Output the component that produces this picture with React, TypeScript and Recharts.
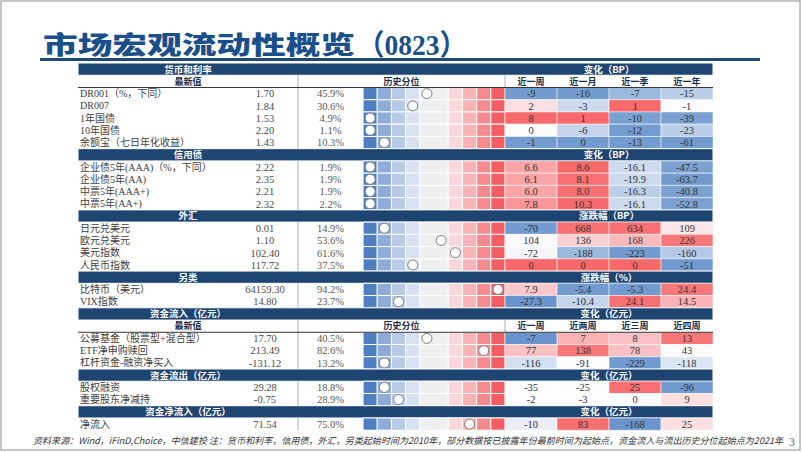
import React from "react";
import { ComposedChart, XAxis, YAxis, ReferenceArea, ReferenceLine, Scatter } from "recharts";

// section structure
const sectionTitles = ["货币和利率", "信用债", "外汇", "另类", "资金流入（亿元）", "资金流出（亿元）", "资金净流入（亿元）"];
const sectionChangeTitles = ["变化（BP）", "变化（BP）", "涨跌幅（BP）", "涨跌幅（%）", "变化（亿元）", "变化（亿元）", "变化（亿元）"];
const sectionRowCounts = [5, 4, 4, 2, 3, 2, 1];
const sectionDecimals = [0, 1, 0, 1, 0, 0, 0];
const ratePeriods = ["近一周", "近一月", "近一季", "近一年"];
const flowPeriods = ["近一周", "近两周", "近三周", "近四周"];
const subheadSections = [0, 4];

const rowLabels = [
  "DR001（%，下同）", "DR007", "1年国债", "10年国债", "余额宝（七日年化收益）",
  "企业债5年(AAA)（%，下同）", "企业债5年(AA)", "中票5年(AAA+)", "中票5年(AA+)",
  "日元兑美元", "欧元兑美元", "美元指数", "人民币指数",
  "比特币（美元）", "VIX指数",
  "公募基金（股票型+混合型）", "ETF净申购赎回", "杠杆资金-融资净买入",
  "股权融资", "重要股东净减持",
  "净流入",
];
const latestValues = [1.7, 1.84, 1.53, 2.2, 1.43, 2.22, 2.35, 2.21, 2.32, 0.01, 1.1, 102.4, 117.72, 64159.3, 14.8, 17.7, 213.49, -131.12, 29.28, -0.75, 71.54];
const percentiles = [45.9, 30.6, 4.9, 1.1, 10.3, 1.9, 1.9, 1.9, 2.2, 14.9, 53.6, 61.6, 37.5, 94.2, 23.7, 40.5, 82.6, 13.2, 18.8, 28.9, 75.0];

const chgP1 = [-9, 2, 8, 0, -1, 6.6, 6.1, 6.0, 7.8, -70, 104, -72, 0, 7.9, -27.3, -7, 77, -116, -35, -2, -10];
const chgP2 = [-16, -3, 1, -6, 0, 8.6, 8.1, 8.0, 10.3, 668, 136, -188, 0, -5.4, -10.4, 7, 138, -91, -25, -3, 83];
const chgP3 = [-7, 1, -10, -12, -13, -16.1, -19.9, -16.3, -16.1, 634, 168, -223, 0, -5.3, 24.1, 8, 78, -229, 25, 0, -168];
const chgP4 = [-15, -1, -39, -23, -61, -47.5, -63.7, -40.8, -52.8, 109, 226, -160, -51, 24.4, 14.5, 13, 43, -118, -96, 9, 25];

// heat level (-1 blue .. 0 white .. 1 red)
const heatP1 = [-0.85, 0.2, 1, 0, -0.85, 0.6, 0.6, 0.6, 0.7, -0.85, 0.02, -0.05, 1, 0.35, -0.9, -0.9, 0.4, -0.25, 0, 0, -0.12];
const heatP2 = [-0.85, -0.3, 1, -0.35, -0.85, 1, 0.95, 0.95, 1, 0.95, 0.3, -0.6, 1, -0.85, -0.35, 0.5, 0.9, 0, 0, 0, 0.95];
const heatP3 = [-0.6, 1, -0.8, -0.85, -0.85, -0.3, -0.3, -0.4, -0.3, 0.95, 0.45, -0.85, 1, -0.85, 0.95, 0.4, 0.4, -0.85, 0.95, 0, -0.9];
const heatP4 = [-0.4, 0, -0.8, -0.4, -0.85, -0.8, -0.85, -0.8, -0.8, 0.15, 0.9, -0.45, -0.85, 0.9, 0.5, 0.9, 0, -0.2, -0.85, 0.2, 0.2];

const changes = [chgP1, chgP2, chgP3, chgP4];
const heats = [heatP1, heatP2, heatP3, heatP4];

// layout in percentile units (band 0..100)
const X_MIN = -200.7;
const X_SEP = -45.8;
const VALUE_C = -69;
const CHG_W = 36.6;
const X_MAX = 100 + 4 * CHG_W;
const bandEdges = [0, 10, 20, 30, 40, 60, 70, 80, 90, 100];
const bandColors = ["#4f7fc3", "#8eabd9", "#b7cae7", "#d7e1f1", "#efefef", "#fcd7d9", "#f9b3b6", "#f68b8f", "#f45e63"];

const NAVY = "#1e4471";
const SERIF = '"Liberation Serif", "Times New Roman", "Noto Sans CJK SC", serif';
const CJK = '"Noto Sans CJK SC", sans-serif';

function heatColor(v: number) {
  const w = [252, 252, 255];
  const end = v < 0 ? [90, 138, 198] : [248, 105, 107];
  const t = Math.min(1, Math.abs(v));
  const c = w.map((a, k) => Math.round(a + (end[k] - a) * t));
  return `rgb(${c[0]},${c[1]},${c[2]})`;
}

function CellText(props: any) {
  const { viewBox, text, align = "middle", color = "#404040", size = 10, weight = 400, family = SERIF, pad = 2 } = props;
  if (!viewBox) return null;
  const { x, y, width, height } = viewBox;
  const tx = align === "start" ? x + pad : align === "end" ? x + width - pad : x + width / 2;
  return (
    <text x={tx} y={y + height / 2} dy="0.36em" textAnchor={align} fill={color} fontSize={size} fontWeight={weight} fontFamily={family}>
      {text}
    </text>
  );
}

type RowDef = { kind: "head" | "sub" | "data"; y: number; s: number; i: number };
const rows: RowDef[] = [];
let rr = 0;
let dd = 0;
sectionTitles.forEach((_, s) => {
  rows.push({ kind: "head", y: rr++, s, i: -1 });
  if (subheadSections.includes(s)) rows.push({ kind: "sub", y: rr++, s, i: -1 });
  for (let k = 0; k < sectionRowCounts[s]; k++) rows.push({ kind: "data", y: rr++, s, i: dd++ });
});
const TOTAL_ROWS = rr;

// dots sit in the middle of their 10% bin
const dots = rows
  .filter((r) => r.kind === "data")
  .map((r) => ({ x: Math.floor(percentiles[r.i] / 10) * 10 + 5, y: r.y + 0.5 }));

function renderRow(r: RowDef) {
  const y1 = r.y;
  const y2 = r.y + 1;
  const out: React.ReactNode[] = [];
  const k = `r${r.y}`;
  if (r.kind === "head") {
    out.push(<ReferenceArea key={k + "bg"} x1={X_MIN} x2={X_MAX} y1={y1} y2={y2} fill={NAVY} fillOpacity={1} stroke="#fff" strokeWidth={1} />);
    out.push(
      <ReferenceArea key={k + "t1"} x1={X_MIN} x2={X_SEP} y1={y1} y2={y2} fillOpacity={0} strokeOpacity={0}
        label={<CellText text={sectionTitles[r.s]} color="#fff" size={9.5} weight={700} family={CJK} />} />
    );
    out.push(
      <ReferenceArea key={k + "t2"} x1={100} x2={X_MAX} y1={y1} y2={y2} fillOpacity={0} strokeOpacity={0}
        label={<CellText text={sectionChangeTitles[r.s]} color="#fff" size={9.5} weight={700} family={CJK} />} />
    );
  } else if (r.kind === "sub") {
    const heads = r.s === 0 ? ratePeriods : flowPeriods;
    out.push(
      <ReferenceArea key={k + "a"} x1={X_MIN} x2={X_SEP} y1={y1} y2={y2} fillOpacity={0} strokeOpacity={0}
        label={<CellText text="最新值" color="#1c2b45" size={9} weight={700} family={CJK} />} />
    );
    out.push(
      <ReferenceArea key={k + "b"} x1={X_SEP} x2={100} y1={y1} y2={y2} fillOpacity={0} strokeOpacity={0}
        label={<CellText text="历史分位" color="#1c2b45" size={9} weight={700} family={CJK} />} />
    );
    heads.forEach((h, c) => {
      out.push(
        <ReferenceArea key={k + "p" + c} x1={100 + c * CHG_W} x2={100 + (c + 1) * CHG_W} y1={y1} y2={y2} fillOpacity={0} strokeOpacity={0}
          label={<CellText text={h} color="#1c2b45" size={9} weight={700} family={CJK} />} />
      );
    });
  } else {
    const i = r.i;
    const dec = sectionDecimals[r.s];
    out.push(
      <ReferenceArea key={k + "l"} x1={X_MIN} x2={VALUE_C - 25} y1={y1} y2={y2} fillOpacity={0} strokeOpacity={0}
        label={<CellText text={rowLabels[i]} align="start" size={10} />} />
    );
    out.push(
      <ReferenceArea key={k + "v"} x1={VALUE_C - 20} x2={VALUE_C + 20} y1={y1} y2={y2} fillOpacity={0} strokeOpacity={0}
        label={<CellText text={latestValues[i].toFixed(2)} size={10.5} color="#4a4a4a" />} />
    );
    out.push(
      <ReferenceArea key={k + "p"} x1={X_SEP} x2={0} y1={y1} y2={y2} fillOpacity={0} strokeOpacity={0}
        label={<CellText text={percentiles[i].toFixed(1) + "%"} size={10.5} color="#595959" />} />
    );
    bandColors.forEach((col, b) => {
      out.push(
        <ReferenceArea key={k + "b" + b} x1={bandEdges[b]} x2={bandEdges[b + 1]} y1={y1} y2={y2} fill={col} fillOpacity={1} stroke="#fff" strokeWidth={1} />
      );
    });
    changes.forEach((arr, c) => {
      out.push(
        <ReferenceArea key={k + "c" + c} x1={100 + c * CHG_W} x2={100 + (c + 1) * CHG_W} y1={y1} y2={y2}
          fill={heatColor(heats[c][i])} fillOpacity={1} stroke="#fff" strokeWidth={0.5}
          label={<CellText text={arr[i].toFixed(dec)} size={10.5} color="#333" />} />
      );
    });
  }
  return out;
}

// ranges (in rows) for the vertical separator, skipping header rows
function bodySegments() {
  const segs: { a: number; b: number }[] = [];
  let start = -1;
  rows.forEach((r) => {
    if (r.kind !== "head" && start < 0) start = r.y;
    if (r.kind === "head" && start >= 0) {
      segs.push({ a: start, b: r.y });
      start = -1;
    }
  });
  if (start >= 0) segs.push({ a: start, b: TOTAL_ROWS });
  return segs;
}

export default function App() {
  const subRows = rows.filter((r) => r.kind === "sub");
  return (
    <div style={{ position: "absolute", left: 0, top: 0, width: 802, height: 452, background: "#fff", overflow: "hidden" }}>
      <svg width={802} height={452} style={{ position: "absolute", left: 0, top: 0 }}>
        <rect x={1} y={1} width={799} height={449} fill="none" stroke="#8c8c8c" strokeWidth={1} />
        <text x={43} y={54} fontSize={25} fontWeight={900} fontFamily={CJK} fill="#1b4f8a" textLength={312} lengthAdjust="spacingAndGlyphs">
          市场宏观流动性概览
        </text>
        <text x={357} y={55} fontSize={29} fontWeight={700} fontFamily={SERIF} fill="#1b4f8a" textLength={110} lengthAdjust="spacingAndGlyphs">
          （0823）
        </text>
        <rect x={40} y={58} width={720} height={3} fill="#1f4a78" />
        <text x={33} y={444} fontSize={9} fontStyle="italic" fontFamily={CJK} fill="#333" textLength={750} lengthAdjust="spacingAndGlyphs">
          资料来源：Wind，iFinD,Choice，中信建投 注：货币和利率，信用债，外汇，另类起始时间为2010年，部分数据按已披露年份最前时间为起始点，资金流入与流出历史分位起始点为2021年
        </text>
        <text x={789} y={446} fontSize={12} fontFamily={SERIF} fill="#666">3</text>
      </svg>
      <div style={{ position: "absolute", left: 0, top: 0 }}>
        <ComposedChart width={802} height={452} margin={{ top: 63, right: 89, bottom: 452 - 63 - 12.24 * TOTAL_ROWS, left: 78 }}>
          <XAxis type="number" dataKey="x" domain={[X_MIN, X_MAX]} hide allowDataOverflow />
          <YAxis type="number" dataKey="y" domain={[0, TOTAL_ROWS]} reversed hide allowDataOverflow />
          {rows.map((r) => renderRow(r))}
          {bodySegments().map((sg, n) => (
            <ReferenceLine key={"sep" + n} segment={[{ x: X_SEP, y: sg.a }, { x: X_SEP, y: sg.b }]} stroke="#a3acbf" strokeWidth={1} />
          ))}
          {subRows.map((r) => (
            <ReferenceLine key={"sub" + r.y} segment={[{ x: 100, y: r.y }, { x: 100, y: r.y + 1 }]} stroke="#a3acbf" strokeWidth={1} />
          ))}
          {subRows.map((r) => (
            <ReferenceLine key={"subb" + r.y} segment={[{ x: X_MIN, y: r.y + 1 }, { x: X_MAX, y: r.y + 1 }]} stroke="#333" strokeWidth={1} />
          ))}
          <Scatter
            data={dots}
            isAnimationActive={false}
            shape={(p: any) => <circle cx={p.cx} cy={p.cy} r={5} fill="#fff" stroke="#7f7f7f" strokeWidth={1} />}
          />
        </ComposedChart>
      </div>
    </div>
  );
}
